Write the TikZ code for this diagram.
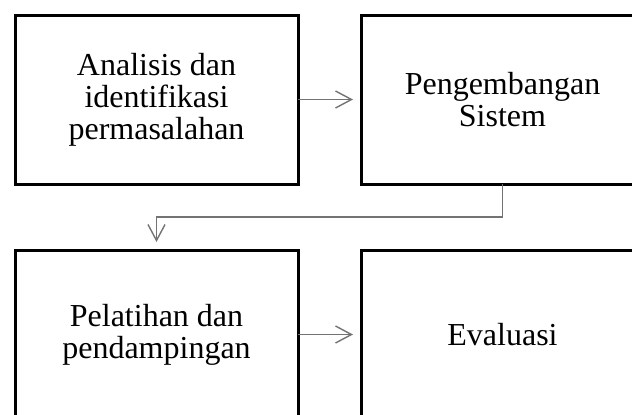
\documentclass[tikz,border=0pt]{standalone}
\usepackage{fontspec}
\setmainfont{Liberation Serif}
\usetikzlibrary{arrows.meta}
\begin{document}
\begin{tikzpicture}[x=1pt,y=-1pt,
  box/.style={draw=black,line width=3pt,minimum width=283pt,minimum height=169pt,
    inner sep=0pt,outer sep=0pt,align=center,font=\fontsize{32}{32}\selectfont},
  conn/.style={draw=black!55,line width=1.4pt,
    -{Straight Barb[length=16pt,width=17pt,line width=1.4pt]},shorten >=8pt}]
\useasboundingbox (0,0) rectangle (632,415);
\node[box] (A) at (156.5,99.5) {Analisis dan\\identifikasi\\permasalahan};
\node[box] (B) at (502.5,99.5) {Pengembangan\\Sistem};
\node[box] (C) at (156.5,334.5) {Pelatihan dan\\pendampingan};
\node[box] (D) at (502.5,334.5) {Evaluasi};
\draw[conn] (A.east) -- (B.west);
\draw[conn] (B.south) -- ++(0,33) -| (C.north);
\draw[conn] (C.east) -- (D.west);
\end{tikzpicture}
\end{document}
